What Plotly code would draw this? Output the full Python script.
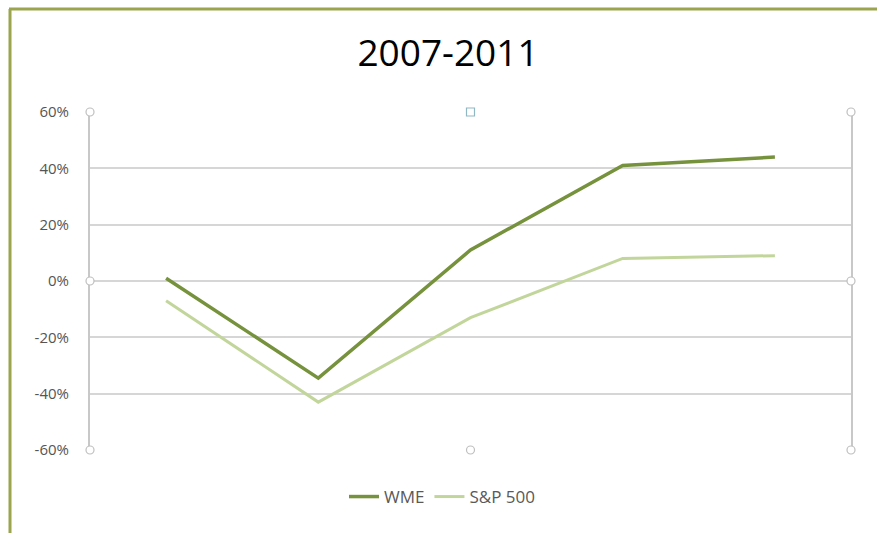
import plotly.graph_objects as go

# Annual cumulative return, 2007-2011
years = ["2007", "2008", "2009", "2010", "2011"]
wme = [1, -34.5, 11, 41, 44]
sp500 = [-7, -43, -13, 8, 9]

y_ticks = [-60, -40, -20, 0, 20, 40, 60]
y_labels = [f"{v}%" for v in y_ticks]

W, H = 877, 533
L, R, T, B = 90, 26, 112, 83
pw, ph = W - L - R, H - T - B


def px_x(x):
    return (x - L) / pw


def px_y(y):
    return (H - B - y) / ph


fig = go.Figure()
fig.add_trace(go.Scatter(x=years, y=wme, name="WME", mode="lines",
                         line=dict(color="#76923C", width=3.5)))
fig.add_trace(go.Scatter(x=years, y=sp500, name="S&P 500", mode="lines",
                         line=dict(color="#C2D69B", width=3)))

shapes = [
    # frame (top and left edges)
    dict(type="line", xref="paper", yref="paper", x0=px_x(9), x1=px_x(W + 5),
         y0=px_y(9), y1=px_y(9), line=dict(color="#9AA54E", width=3)),
    dict(type="line", xref="paper", yref="paper", x0=px_x(10), x1=px_x(10),
         y0=px_y(9), y1=px_y(H + 5), line=dict(color="#9AA54E", width=3)),
]

# selection handles around the plot area
handles = [(L, T), (L + pw, T), (L, T + ph / 2), (L + pw, T + ph / 2),
           (L, T + ph), (L + pw / 2, T + ph), (L + pw, T + ph)]
for hx, hy in handles:
    shapes.append(dict(type="circle", xref="paper", yref="paper",
                       x0=px_x(hx - 4), x1=px_x(hx + 4),
                       y0=px_y(hy - 4), y1=px_y(hy + 4),
                       fillcolor="white", line=dict(color="#BFBFBF", width=1.2)))
shapes.append(dict(type="rect", xref="paper", yref="paper",
                   x0=px_x(L + pw / 2 - 4), x1=px_x(L + pw / 2 + 4),
                   y0=px_y(T - 4), y1=px_y(T + 4),
                   fillcolor="white", line=dict(color="#8FB8C4", width=1.2)))

fig.update_layout(
    width=W, height=H,
    margin=dict(l=L, r=R, t=T, b=B),
    paper_bgcolor="white", plot_bgcolor="white",
    title=dict(text="2007-2011", x=448 / W, xanchor="center",
               y=1 - 53 / H, yanchor="middle",
               font=dict(family="Open Sans", size=37, color="#000000")),
    xaxis=dict(type="category", showticklabels=False, showgrid=False,
               zeroline=False, showline=False, range=[-0.5, 4.5]),
    yaxis=dict(range=[-60, 60], tickvals=y_ticks, ticktext=y_labels,
               showgrid=True, gridcolor="#D6D6D6", gridwidth=2,
               zeroline=False, showline=True, linecolor="#C8C8C8",
               linewidth=2, mirror=True, ticks="", ticklabelstandoff=16,
               tickfont=dict(family="Open Sans", size=15, color="#555555")),
    legend=dict(orientation="h", x=px_x(442), xanchor="center",
                y=px_y(497), yanchor="middle", tracegroupgap=0,
                font=dict(family="Open Sans", size=17, color="#595959"),
                bgcolor="rgba(0,0,0,0)"),
    shapes=shapes,
    showlegend=True,
)

fig.write_html("out.html")
